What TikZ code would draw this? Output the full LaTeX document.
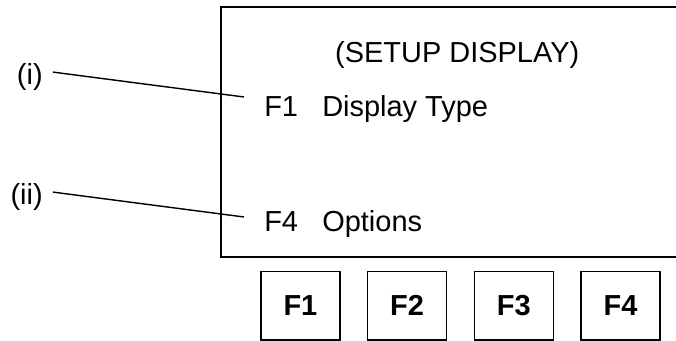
\documentclass[tikz,border=0pt]{standalone}
\usepackage{fontspec}
\setmainfont{Liberation Sans}
\usepackage{tikz}
\usetikzlibrary{positioning}

\tikzset{
	screentext/.style={inner sep=0pt,font=\fontsize{20.6}{24}\selectfont},
	keybox/.style={draw,line width=1pt,minimum width=1.975cm,minimum height=1.7cm,
		inner sep=0pt,font=\fontsize{20.6}{24}\selectfont\bfseries},
	pointer/.style={line width=1pt}
}

\begin{document}
\begin{tikzpicture}
	\useasboundingbox (0,0) rectangle (16.9,8.525);

	% display screen (runs off to the right)
	\draw[line width=1.4pt] (16.9,8.35) -- (5.525,8.35) -- (5.525,2.1) -- (16.9,2.1);

	\node[screentext,anchor=base] (title) at (11.43,6.95) {(SETUP DISPLAY)};
	\node[screentext,anchor=base west] (keyA) at (6.6,5.6) {F1};
	\node[screentext,anchor=base west] (itemA) at (8.05,5.6) {Display Type};
	\node[screentext,anchor=base west] (keyD) at (6.6,2.725) {F4};
	\node[screentext,anchor=base west] (itemD) at (8.05,2.725) {Options};

	% soft keys
	\foreach \i in {1,2,3,4}
		\node[keybox] (soft\i) at ({7.51+2.667*(\i-1)},0.88) {F\i};

	% callouts
	\node[screentext,anchor=east] (labi) at (1.075,6.6) {(i)};
	\node[screentext,anchor=east] (labii) at (1.075,3.6) {(ii)};
	\coordinate (endi) at (6.1,6.1);
	\coordinate (endii) at (6.1,3.1);
	\draw[pointer] ([xshift=7pt,yshift=3.5pt]labi.east) -- (endi);
	\draw[pointer] ([xshift=7pt,yshift=3.5pt]labii.east) -- (endii);
\end{tikzpicture}
\end{document}
